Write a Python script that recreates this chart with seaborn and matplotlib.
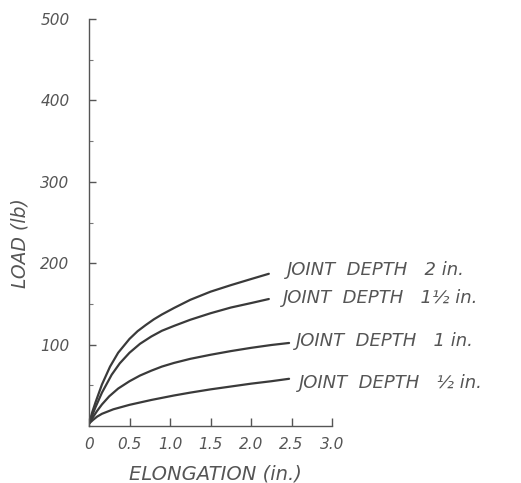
import matplotlib
matplotlib.use("Agg")
import matplotlib.pyplot as plt
import seaborn as sns
import pandas as pd
from matplotlib.ticker import MultipleLocator, FixedLocator

# ---- data ----
x_2in = [0, 0.04, 0.08, 0.16, 0.26, 0.36, 0.5, 0.6, 0.7, 0.8, 0.9, 1.05, 1.25, 1.5, 1.75, 2.0, 2.22]
y_2in = [3, 17, 29, 51, 73, 90, 107, 116.5, 124, 131, 137, 145, 155, 165, 173, 180.5, 187]
x_15in = [0, 0.04, 0.08, 0.16, 0.28, 0.38, 0.5, 0.63, 0.77, 0.9, 1.05, 1.25, 1.5, 1.75, 2.0, 2.22]
y_15in = [3, 13, 23, 41, 63, 77, 90, 101, 110, 117, 123, 130.5, 138.5, 145.5, 151, 156]
x_1in = [0, 0.05, 0.1, 0.16, 0.25, 0.36, 0.5, 0.63, 0.77, 0.9, 1.05, 1.25, 1.5, 1.75, 2.0, 2.25, 2.47]
y_1in = [3, 11, 18.5, 26.5, 36.5, 46, 55, 62, 68, 73, 77.5, 82.5, 87.5, 92, 96, 99.5, 102]
x_05in = [0, 0.05, 0.1, 0.16, 0.3, 0.5, 0.77, 1.05, 1.25, 1.5, 1.75, 2.0, 2.25, 2.47]
y_05in = [3, 7.5, 11.5, 15, 20.5, 26, 32, 37.5, 41, 45, 48.5, 52, 55, 58]

series_names = ["JOINT  DEPTH   2 in.", "JOINT  DEPTH   1½ in.", "JOINT  DEPTH   1 in.", "JOINT  DEPTH   ½ in."]
x_ticks = [0, 0.5, 1.0, 1.5, 2.0, 2.5, 3.0]
x_tick_labels = ["0", "0.5", "1.0", "1.5", "2.0", "2.5", "3.0"]
y_ticks = [100, 200, 300, 400, 500]
y_tick_labels = ["100", "200", "300", "400", "500"]

xs = [x_2in, x_15in, x_1in, x_05in]
ys = [y_2in, y_15in, y_1in, y_05in]
rows = []
for name, xv, yv in zip(series_names, xs, ys):
    for a, b in zip(xv, yv):
        rows.append({"series": name, "x": a, "y": b})
df = pd.DataFrame(rows)

sns.set_style("ticks")
plt.rcParams['font.family'] = ['DejaVu Sans']

fig = plt.figure(figsize=(5.21, 4.83), dpi=100)
ax = fig.add_axes([89/521, (483-426)/483, (332-89)/521, (426-19)/483])

line_col = "#3a3a3a"
txt_col = "#555555"
sns.lineplot(data=df, x="x", y="y", hue="series", palette=[line_col]*4,
             legend=False, ax=ax, linewidth=1.6, sort=True, estimator=None)
for ln in ax.get_lines():
    ln.set_solid_joinstyle("round")

ax.set_xlim(0, 3.0)
ax.set_ylim(0, 500)
ax.xaxis.set_major_locator(FixedLocator(x_ticks))
ax.set_xticklabels(x_tick_labels)
ax.yaxis.set_major_locator(FixedLocator(y_ticks))
ax.set_yticklabels(y_tick_labels)
ax.yaxis.set_minor_locator(MultipleLocator(50))

for s in ["top", "right"]:
    ax.spines[s].set_visible(False)
for s in ["left", "bottom"]:
    ax.spines[s].set_color("#555555")
    ax.spines[s].set_linewidth(1.0)

ax.tick_params(axis="x", direction="in", length=6, width=1, color="#555555",
               labelsize=11, labelcolor=txt_col, pad=8)
ax.tick_params(axis="y", which="major", direction="in", length=5, width=1, color="#555555",
               labelsize=11, labelcolor=txt_col, pad=14)
ax.tick_params(axis="y", which="minor", direction="in", length=3, width=0.8, color="#777777")
for lab in ax.get_xticklabels() + ax.get_yticklabels():
    lab.set_fontstyle("italic")

ax.set_xlabel("")
ax.set_ylabel("")
ax.text((215-89)/243, -(474-426)/407, "ELONGATION (in.)", transform=ax.transAxes,
        ha="center", va="center", fontsize=14, color=txt_col, style="italic")
ax.text((20-89)/243, (426-243)/407, "LOAD (lb)", transform=ax.transAxes,
        ha="center", va="center", rotation=90, fontsize=13.5, color=txt_col, style="italic")

label_pos = [(2.44, 192), (2.40, 157), (2.55, 104), (2.59, 53)]
for name, (lx, ly) in zip(series_names, label_pos):
    ax.text(lx, ly, name, ha="left", va="center", fontsize=13, color=txt_col,
            style="italic", clip_on=False)

fig.savefig("out.png", dpi=100, facecolor="white")
